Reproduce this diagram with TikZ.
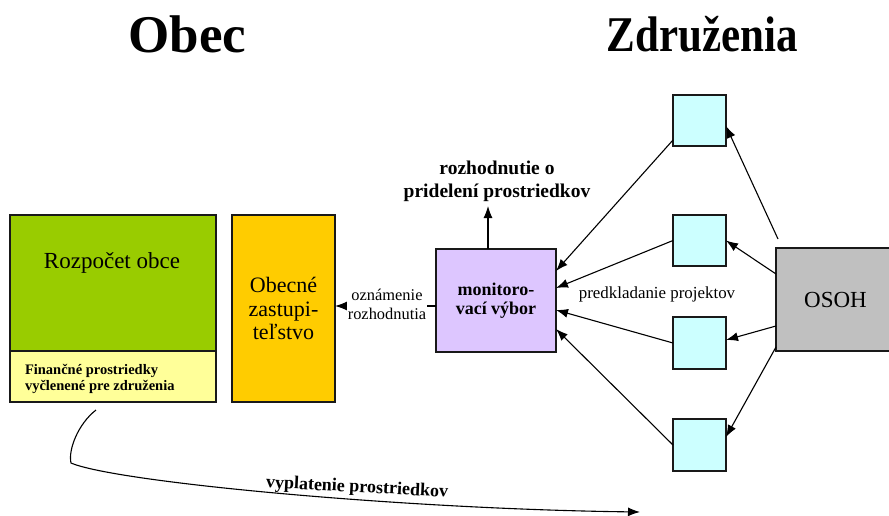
\documentclass[tikz,border=0pt]{standalone}
\usepackage{fontspec}
\setmainfont{Liberation Serif}
\usetikzlibrary{arrows.meta}
\definecolor{cgreen}{HTML}{99CC00}
\definecolor{cyell}{HTML}{FFFF99}
\definecolor{corange}{HTML}{FFCC00}
\definecolor{clav}{HTML}{DDC6FF}
\definecolor{ccyan}{HTML}{CCFFFF}
\definecolor{cgrey}{HTML}{C0C0C0}
\newcommand\myfs[2]{\fontsize{#1}{#2}\selectfont}
\begin{document}
\begin{tikzpicture}[x=1pt,y=-1pt,
  box/.style={draw=black!90, line width=2.8pt, outer sep=0pt, inner sep=0pt, rectangle},
  conn/.style={line width=1.1pt, -{Latex[length=12pt,width=9pt]}},
  plain/.style={inner sep=1pt, outer sep=0pt}]
\useasboundingbox (0,0) rectangle (889,516);
\clip (0,0) rectangle (889,516);
% titles
\node[anchor=base, font=\bfseries\myfs{53}{60}] (t1) at (187.5,53) {Obec};
\node[anchor=base, font=\bfseries\myfs{50}{60}] (t2) at (702,52) {\scalebox{0.86}[1]{Združenia}};
% left boxes
\node[box, fill=cgreen, minimum width=206pt, minimum height=136pt] (rozp) at (113,283) {};
\node[plain, font=\myfs{23}{24}] (rozpt) at (112,263) {Rozpočet obce};
\node[box, fill=cyell, minimum width=206pt, minimum height=51pt] (fin) at (113,376.5) {};
\node[plain, anchor=west, align=left, font=\bfseries\myfs{14.5}{16}] (fint) at (24,379) {Finančné prostriedky\\vyčlenené pre združenia};
\node[box, fill=corange, minimum width=103pt, minimum height=187pt, align=center, font=\myfs{22}{23.5}] (obz) at (283.5,308.5) {Obecné\\zastupi-\\teľstvo};
% monitoring
\node[box, fill=clav, minimum width=120pt, minimum height=103pt, align=center, font=\bfseries\myfs{18}{19}] (mon) at (496,300.5) {monitoro-\\vací výbor};
\node[plain, align=center, font=\bfseries\myfs{19.5}{23}] (dec) at (497,181) {rozhodnutie o\\pridelení prostriedkov};
% squares
\node[box, fill=ccyan, minimum width=53pt, minimum height=51pt] (s1) at (699.5,120.5) {};
\node[box, fill=ccyan, minimum width=53pt, minimum height=51pt] (s2) at (699.5,240.5) {};
\node[box, fill=ccyan, minimum width=53pt, minimum height=52pt] (s3) at (699.5,343) {};
\node[box, fill=ccyan, minimum width=53pt, minimum height=52pt] (s4) at (699.5,445) {};
% OSOH
\node[box, fill=cgrey, minimum width=119pt, minimum height=103pt, font=\myfs{23}{25}] (osoh) at (835.5,299.5) {OSOH};
% connectors
\coordinate (dbot) at (488,206);
\draw[conn] (mon.north -| dbot) -- (dbot);
\draw[conn] (mon.west |- 0,306) -- (obz.east |- 0,306);
\node[plain, fill=white, align=center, font=\myfs{16.4}{19}] (ozn) at (387,304.5) {oznámenie\\rozhodnutia};
\draw[conn] ([yshift=6pt]s1.south west) -- ([yshift=29.5pt]mon.east);
\draw[conn] (s2.west) -- ([yshift=12.5pt]mon.east);
\draw[conn] (s3.west) -- ([yshift=-9.5pt]mon.east);
\draw[conn] (s4.west) -- ([yshift=-28.5pt]mon.east);
\node[plain, font=\myfs{16.9}{19}] (pred) at (657,294) {predkladanie projektov};
\draw[conn] ([shift={(2pt,9pt)}]osoh.north west) -- ([yshift=-5.5pt]s1.east);
\draw[conn] ([yshift=25.5pt]osoh.west) -- (s2.east);
\draw[conn] ([yshift=-26.5pt]osoh.west) -- ([yshift=3pt]s3.east);
\draw[conn] ([yshift=-47.5pt]osoh.west) -- ([yshift=8pt]s4.east);
% payout curve
\coordinate (p0) at (96,410);
\coordinate (p1) at (71,463);
\coordinate (p2) at (640,512);
\draw[conn] (p0) .. controls (78,424) and (68,450) .. (p1) .. controls (115,482) and (400,509) .. (p2);
\node[plain, rotate=-3, font=\bfseries\myfs{18}{20}] (vyp) at (357,488) {vyplatenie prostriedkov};
\end{tikzpicture}
\end{document}
